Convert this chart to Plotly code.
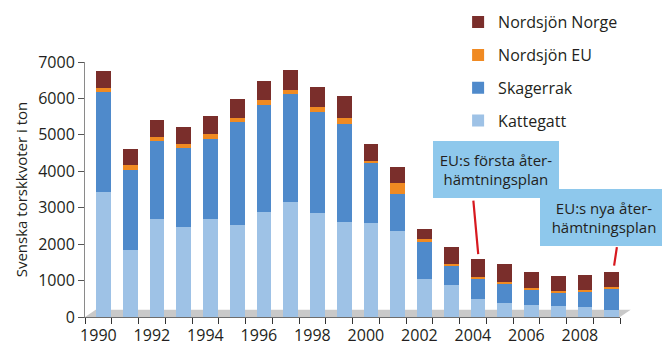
import plotly.graph_objects as go

years = list(range(1990, 2010))
kattegatt = [3440, 1850, 2680, 2480, 2700, 2520, 2890, 3165, 2845, 2615,
             2570, 2360, 1055, 870, 505, 385, 320, 295, 275, 185]
skagerrak = [2725, 2190, 2165, 2170, 2200, 2820, 2935, 2955, 2770, 2690,
             1650, 1020, 1010, 550, 550, 535, 440, 365, 415, 580]
nordsjon_eu = [120, 120, 90, 100, 120, 120, 140, 120, 145, 155,
               70, 295, 65, 45, 45, 45, 45, 45, 65, 65]
nordsjon_norge = [460, 450, 480, 460, 500, 530, 500, 530, 550, 595,
                  460, 440, 275, 460, 505, 480, 430, 420, 410, 410]
series_names = ["Kattegatt", "Skagerrak", "Nordsjön EU", "Nordsjön Norge"]
series_colors = ["#9ec2e6", "#4f8acb", "#f08a22", "#7a2e2b"]
tick_years = list(range(1990, 2010, 2))
y_ticks = list(range(0, 7001, 1000))

totals = [a + b + c + d for a, b, c, d in zip(kattegatt, skagerrak, nordsjon_eu, nordsjon_norge)]

FONT = "Open Sans"
fig = go.Figure()
for rank, (name, vals, col) in enumerate(zip(series_names, [kattegatt, skagerrak, nordsjon_eu, nordsjon_norge], series_colors)):
    fig.add_trace(go.Bar(
        x=years, y=vals, name=name, marker_color=col,
        marker_line_width=0, width=0.55, offset=-0.08,
        legendgroup=name, legendrank=1000 - rank,
    ))

# gray 3D floor
fig.add_shape(type="path", xref="x domain", yref="y",
              path="M 0 0 L 1.0 0 L 1.02 200 L 0.02 200 Z",
              fillcolor="#c9c9c9", line=dict(width=0), layer="below")

ann_font = dict(family=FONT, size=15, color="#231f20")
box_col = "#8ec8ec"
i04 = years.index(2004)
i09 = years.index(2009)
# red pointer lines
fig.add_annotation(x=2004.2, y=totals[i04] + 120, xref="x", yref="y",
                   text="", showarrow=True, arrowhead=0, arrowwidth=2.2,
                   arrowcolor="#d7191f", ax=-5, ay=-55)
fig.add_annotation(x=2009.28, y=totals[i09] + 170, xref="x", yref="y",
                   text="", showarrow=True, arrowhead=0, arrowwidth=2.2,
                   arrowcolor="#d7191f", ax=3, ay=-20)
# text boxes
fig.add_annotation(x=0.768, y=0.578, xref="paper", yref="paper",
                   xanchor="center", yanchor="middle",
                   text="EU:s första åter-<br>hämtningsplan", showarrow=False,
                   bgcolor=box_col, width=124, height=55, font=ann_font,
                   align="center", borderwidth=0)
fig.add_annotation(x=0.97, y=0.392, xref="paper", yref="paper",
                   xanchor="center", yanchor="middle",
                   text="EU:s nya åter-<br>hämtningsplan", showarrow=False,
                   bgcolor=box_col, width=126, height=55, font=ann_font,
                   align="center", borderwidth=0)

fig.update_layout(
    width=662, height=347,
    margin=dict(l=85, r=42, t=62, b=30, autoexpand=False),
    paper_bgcolor="white", plot_bgcolor="white",
    barmode="stack",
    font=dict(family=FONT, color="#231f20"),
    showlegend=True,
    legend=dict(xref="container", yref="container", x=0.692, y=0.985,
                xanchor="left", yanchor="top", traceorder="grouped",
                tracegroupgap=9, font=dict(family=FONT, size=16, color="#231f20"),
                bgcolor="rgba(0,0,0,0)"),
    xaxis=dict(range=[1989.5, 2009.5], tickvals=tick_years, ticks="outside",
               ticklen=4, tickcolor="rgba(0,0,0,0)", showline=True, tickangle=0,
               linecolor="#6d6d6d", linewidth=1, showgrid=False, zeroline=False,
               tickfont=dict(family=FONT, size=16, color="#231f20"),
               minor=dict(ticks="outside", ticklen=6, tickcolor="#333333",
                          tick0=1989.5, dtick=1, showgrid=False)),
    yaxis=dict(range=[0, 7000], tickvals=y_ticks, ticks="outside", ticklen=6,
               tickcolor="#555555", showline=True, linecolor="#8a8a8a",
               showgrid=False, zeroline=False,
               tickfont=dict(family=FONT, size=16, color="#231f20"),
               title=dict(text="Svenska torskkvoter i ton", standoff=6,
                          font=dict(family=FONT, size=15, color="#231f20"))),
)

fig.write_html("out.html")
